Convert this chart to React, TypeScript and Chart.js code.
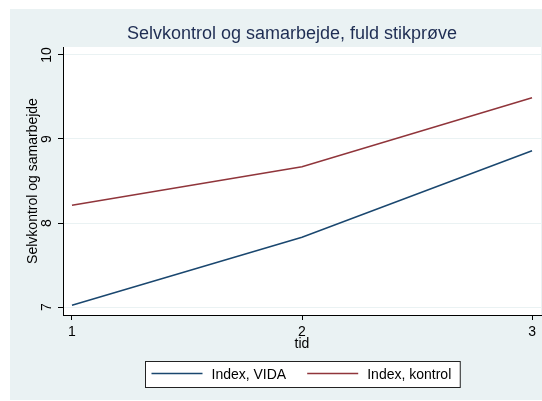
import React, { useEffect, useRef } from "react";
import { Chart, registerables } from "chart.js";

Chart.register(...registerables);

const TITLE = "Selvkontrol og samarbejde, fuld stikprøve";
const Y_TITLE = "Selvkontrol og samarbejde";
const X_TITLE = "tid";
const PERIODS = [1, 2, 3];
const VIDA = [7.02, 7.83, 8.86];
const KONTROL = [8.21, 8.67, 9.49];
const SERIES_LABELS = ["Index, VIDA", "Index, kontrol"];
const Y_TICKS = [7, 8, 9, 10];
const X_TICKS = [1, 2, 3];

const FONT = "'Liberation Sans', Arial, Helvetica, sans-serif";
const BG = "#eaf2f3";
const COLORS = ["#1a476f", "#90353b"];
const W = 532;
const H = 391;

const decor = {
  id: "decor",
  beforeDraw(chart: any) {
    const { ctx, chartArea: a, width, height } = chart;
    ctx.save();
    ctx.fillStyle = BG;
    ctx.fillRect(0, 0, width, height);
    ctx.fillStyle = "#ffffff";
    ctx.fillRect(a.left, a.top, a.right - a.left, a.bottom - a.top);
    ctx.restore();
  },
  afterDraw(chart: any) {
    const { ctx, chartArea: a } = chart;
    ctx.save();
    // title
    ctx.font = `18px ${FONT}`;
    ctx.fillStyle = "#1e2d53";
    ctx.textAlign = "center";
    ctx.textBaseline = "alphabetic";
    ctx.fillText(TITLE, 282, 30);

    // legend
    ctx.font = `14px ${FONT}`;
    const ds = chart.data.datasets;
    const lineW = 51, gap = 9, between = 21, padL = 6, padR = 9;
    const widths = ds.map((d: any) => ctx.measureText(d.label).width);
    let total = padL + padR;
    widths.forEach((w: number, i: number) => {
      total += lineW + gap + w + (i > 0 ? between : 0);
    });
    const cx = (a.left + a.right) / 2;
    const left = Math.round(cx - total / 2) + 0.5;
    const top = 352.5;
    const bh = 26;
    ctx.fillStyle = "#ffffff";
    ctx.fillRect(left, top, total, bh);
    ctx.strokeStyle = "#222222";
    ctx.lineWidth = 1;
    ctx.strokeRect(left, top, total, bh);
    let x = left + padL;
    const ly = 364.5;
    ds.forEach((d: any, i: number) => {
      if (i > 0) x += between;
      ctx.strokeStyle = d.borderColor;
      ctx.lineWidth = 1.5;
      ctx.beginPath();
      ctx.moveTo(x, ly);
      ctx.lineTo(x + lineW, ly);
      ctx.stroke();
      x += lineW + gap;
      ctx.fillStyle = "#000000";
      ctx.textAlign = "left";
      ctx.textBaseline = "alphabetic";
      ctx.fillText(d.label, x, 370);
      x += widths[i];
    });
    ctx.restore();
  },
};

export default function App() {
  const ref = useRef<HTMLCanvasElement>(null);
  useEffect(() => {
    const tickFont = { family: FONT, size: 14 };
    const chart = new Chart(ref.current as HTMLCanvasElement, {
      type: "line",
      data: {
        datasets: [
          {
            label: SERIES_LABELS[0],
            data: PERIODS.map((p, i) => ({ x: p, y: VIDA[i] })),
            borderColor: COLORS[0],
            backgroundColor: COLORS[0],
            borderWidth: 1.5,
            pointRadius: 0,
            tension: 0,
          },
          {
            label: SERIES_LABELS[1],
            data: PERIODS.map((p, i) => ({ x: p, y: KONTROL[i] })),
            borderColor: COLORS[1],
            backgroundColor: COLORS[1],
            borderWidth: 1.5,
            pointRadius: 0,
            tension: 0,
          },
        ],
      },
      options: {
        responsive: false,
        animation: false,
        devicePixelRatio: 1,
        events: [],
        layout: { padding: { top: 38, right: 1, bottom: 45, left: 0 } },
        plugins: {
          legend: { display: false },
          title: { display: false },
          tooltip: { enabled: false },
        },
        scales: {
          x: {
            type: "linear",
            min: 0.961,
            max: 3.039,
            afterBuildTicks: (s: any) => {
              s.ticks = X_TICKS.map((v) => ({ value: v }));
            },
            afterFit: (s: any) => {
              s.height = 40;
            },
            grid: { drawOnChartArea: false, tickLength: 5, tickColor: "#000", tickWidth: 1 },
            border: { color: "#000", width: 1 },
            ticks: {
              padding: 4,
              color: "#000",
              font: tickFont,
              maxRotation: 0,
              autoSkip: false,
              callback: (v: any) => String(v),
            },
            title: {
              display: true,
              text: X_TITLE,
              color: "#000",
              font: tickFont,
              padding: { top: 0, bottom: 2 },
            },
          },
          y: {
            type: "linear",
            min: 6.905,
            max: 10.095,
            afterBuildTicks: (s: any) => {
              s.ticks = Y_TICKS.map((v) => ({ value: v }));
            },
            afterFit: (s: any) => {
              s.width = 53;
            },
            grid: { color: BG, lineWidth: 1, tickLength: 5, tickColor: "#000", tickWidth: 1 },
            border: { color: "#000", width: 1 },
            ticks: {
              padding: 3,
              minRotation: 90,
              maxRotation: 90,
              crossAlign: "center",
              color: "#000",
              font: tickFont,
              autoSkip: false,
              callback: (v: any) => String(v),
            },
            title: {
              display: true,
              text: Y_TITLE,
              color: "#000",
              font: tickFont,
              padding: { top: 14.6, bottom: 0 },
            },
          },
        },
      } as any,
      plugins: [decor],
    });
    return () => chart.destroy();
  }, []);
  return (
    <div style={{ position: "fixed", left: 10, top: 9, width: W, height: H }}>
      <canvas ref={ref} width={W} height={H} style={{ display: "block", width: W, height: H }} />
    </div>
  );
}
